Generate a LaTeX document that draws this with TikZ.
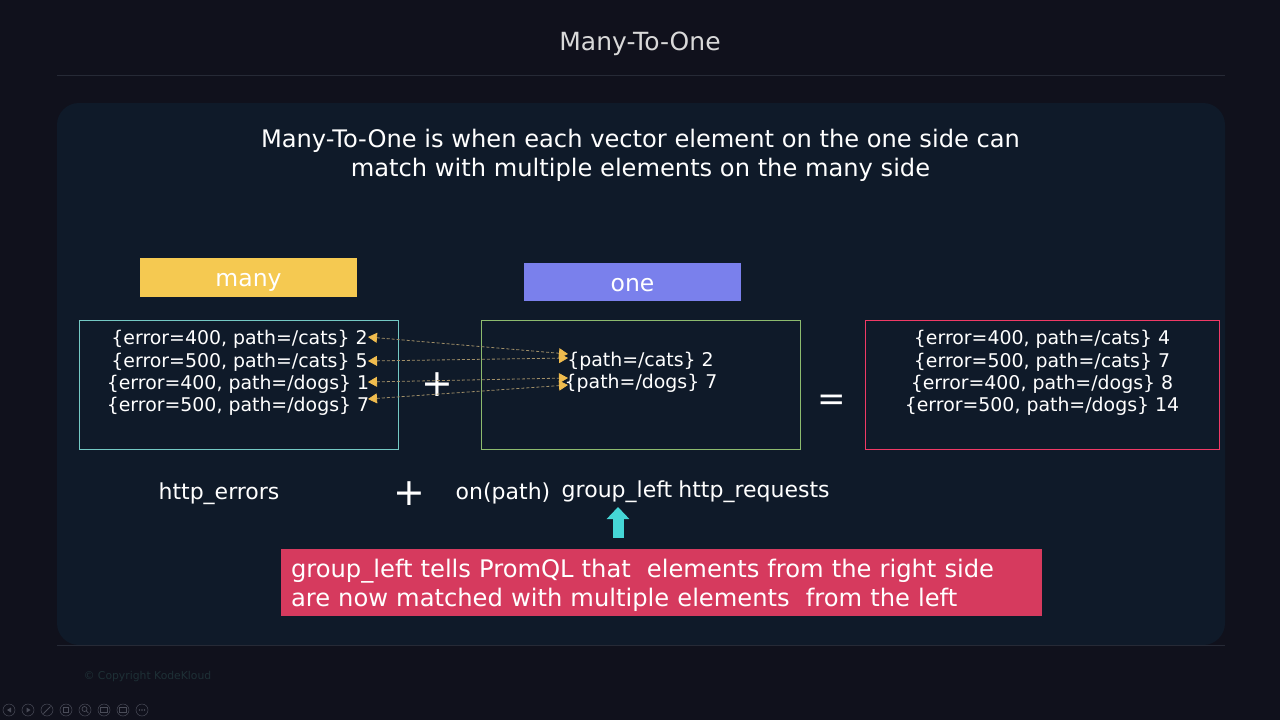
\documentclass[tikz,border=0pt]{standalone}
\usepackage{fontspec}
\setmainfont{DejaVu Sans}
\usetikzlibrary{arrows.meta}
\definecolor{pagebg}{HTML}{10111C}
\definecolor{panelbg}{HTML}{0F1A29}
\definecolor{rulegrey}{HTML}{262A36}
\definecolor{manyyellow}{HTML}{F5C951}
\definecolor{oneblue}{HTML}{7A80EC}
\definecolor{notered}{HTML}{D63A5E}
\definecolor{boxcyan}{HTML}{74C9C4}
\definecolor{boxgreen}{HTML}{8DBB6E}
\definecolor{boxred}{HTML}{F03A66}
\definecolor{tealarrow}{HTML}{45D6D6}
\definecolor{tipyellow}{HTML}{F0BC4E}
\definecolor{linkgrey}{HTML}{A08F68}
\definecolor{copygrey}{HTML}{1E3036}
\definecolor{iconGrey}{HTML}{4A4C58}
\begin{document}
\begin{tikzpicture}[x=1pt,y=-1pt]
        \tikzstyle{every node}=[font=\fontsize{22}{26}\selectfont,text=white,inner sep=0pt]
        \tikzstyle{vector}=[draw,line width=1.4pt,fill=panelbg]
        \tikzstyle{sidelabel}=[minimum width=217pt,font=\fontsize{23.5}{28}\selectfont]
        \tikzstyle{row}=[font=\fontsize{18.9}{23}\selectfont]
        \tikzstyle{link}=[draw=linkgrey,dash pattern=on 3pt off 2pt,line width=0.8pt,{Triangle[length=9pt,width=10pt,color=tipyellow]}-{Triangle[length=9pt,width=10pt,color=tipyellow]}]
        \tikzstyle{toolicon}=[circle,draw=iconGrey,line width=0.5pt,minimum size=12pt]
        \useasboundingbox (0,0) rectangle (1280,720);
        \fill[pagebg] (0,0) rectangle (1280,720);
        \fill[panelbg,rounded corners=22pt] (57,103) rectangle (1225,645);
        \draw[rulegrey] (57,75.5) -- (1225,75.5);
        \draw[rulegrey] (57,645.5) -- (1225,645.5);
        % heading
        \node[text=white!85!black,font=\fontsize{25}{30}\selectfont] (title) at (640,44) {Many-To-One};
        \node[align=center,font=\fontsize{24.15}{29}\selectfont] (intro) at (640.5,155.5) {Many-To-One is when each vector element on the one side can\\match with multiple elements on the many side};
        % labels above boxes
        \node[sidelabel,fill=manyyellow,minimum height=39pt] (many) at (248.5,277) {\raisebox{-9pt}[0pt][0pt]{many}};
        \node[sidelabel,fill=oneblue,minimum height=38pt] (one) at (632.5,282) {\raisebox{-9pt}[0pt][0pt]{one}};
        % boxes
        \draw[vector,draw=boxcyan] (79.5,320.5) rectangle (398.5,449.5);
        \draw[vector,draw=boxgreen] (481.5,320.5) rectangle (800.5,449.5);
        \draw[vector,draw=boxred] (865.5,320.5) rectangle (1219.5,449.5);
        % left rows
        \node[row] (e1) at (239.5,339) {\{error=400, path=/cats\} 2};
        \node[row] (e2) at (239.5,362) {\{error=500, path=/cats\} 5};
        \node[row] (e3) at (238,384) {\{error=400, path=/dogs\} 1};
        \node[row] (e4) at (238,406) {\{error=500, path=/dogs\} 7};
        % middle rows
        \node[row] (q1) at (640.5,361) {\{path=/cats\} 2};
        \node[row] (q2) at (641,383) {\{path=/dogs\} 7};
        % right rows
        \node[row] (r1) at (1042,339) {\{error=400, path=/cats\} 4};
        \node[row] (r2) at (1042,362) {\{error=500, path=/cats\} 7};
        \node[row] (r3) at (1042,384) {\{error=400, path=/dogs\} 8};
        \node[row] (r4) at (1042,406) {\{error=500, path=/dogs\} 14};
        % operators
        \node[font=\fontsize{38}{38}\selectfont] (plus1) at (437,385) {+};
        \node[font=\fontsize{34}{34}\selectfont] (eq) at (832,403) {=};
        \node[font=\fontsize{38}{38}\selectfont] (plus2) at (409.5,494) {+};
        % links
        \coordinate (l1) at (368,337);
        \coordinate (l2) at (368,361);
        \coordinate (l3) at (368,382);
        \coordinate (l4) at (368,399);
        \coordinate (m1) at (568,354);
        \coordinate (m2) at (568,358);
        \coordinate (m3) at (568,378);
        \coordinate (m4) at (568,385);
        \foreach \i in {1,...,4}
          \path[link] (l\i) -- (m\i);
        % query line
        \node (errs) at (219,494) {http\_errors};
        \node (onpath) at (503,493) {on(path)};
        \node (groupleft) at (617,492) {group\_left};
        \node (reqs) at (754,492) {http\_requests};
        % note
        \node[fill=notered,minimum width=761pt,minimum height=67pt,align=left,text width=741pt,font=\fontsize{24.2}{28.5}\selectfont] (note) at (661.5,582) {\rule{0pt}{25pt}group\_left tells PromQL that~ elements from the right side\\are now matched with multiple elements~ from the left};
        \coordinate (tail) at (618,538);
        \coordinate (head) at (618,507);
        \draw[tealarrow,line width=11pt,-{Triangle[length=12pt,width=22pt]}] (tail) -- (head);
        % footer
        \node[text=copygrey,font=\fontsize{10.8}{14}\selectfont] (copy) at (147.5,677) {© Copyright KodeKloud};
        \foreach \n/\x in {a/9,b/28,c/47,d/66,e/85,f/104,g/123,h/142}
          \node[toolicon] (tool\n) at (\x,710) {};
        \fill[iconGrey] (11,707.5) -- (7,710) -- (11,712.5) -- cycle;
        \fill[iconGrey] (26.5,707.5) -- (30.5,710) -- (26.5,712.5) -- cycle;
        \draw[iconGrey,line width=1pt] (43.5,713.5) -- (50.5,706.5);
        \draw[iconGrey,line width=0.6pt] (63.5,707.5) rectangle (68.5,712.5);
        \draw[iconGrey,line width=0.7pt] (84.5,709) circle (2.5pt) (86.3,711) -- (88.5,713);
        \draw[iconGrey,line width=0.6pt] (100.5,707.5) rectangle (107.5,712.5);
        \draw[iconGrey,line width=0.6pt] (119.5,707.5) rectangle (126.5,712.5);
        \fill[iconGrey] (139.5,710) circle (0.8pt) (142,710) circle (0.8pt) (144.5,710) circle (0.8pt);
      \end{tikzpicture}
\end{document}
